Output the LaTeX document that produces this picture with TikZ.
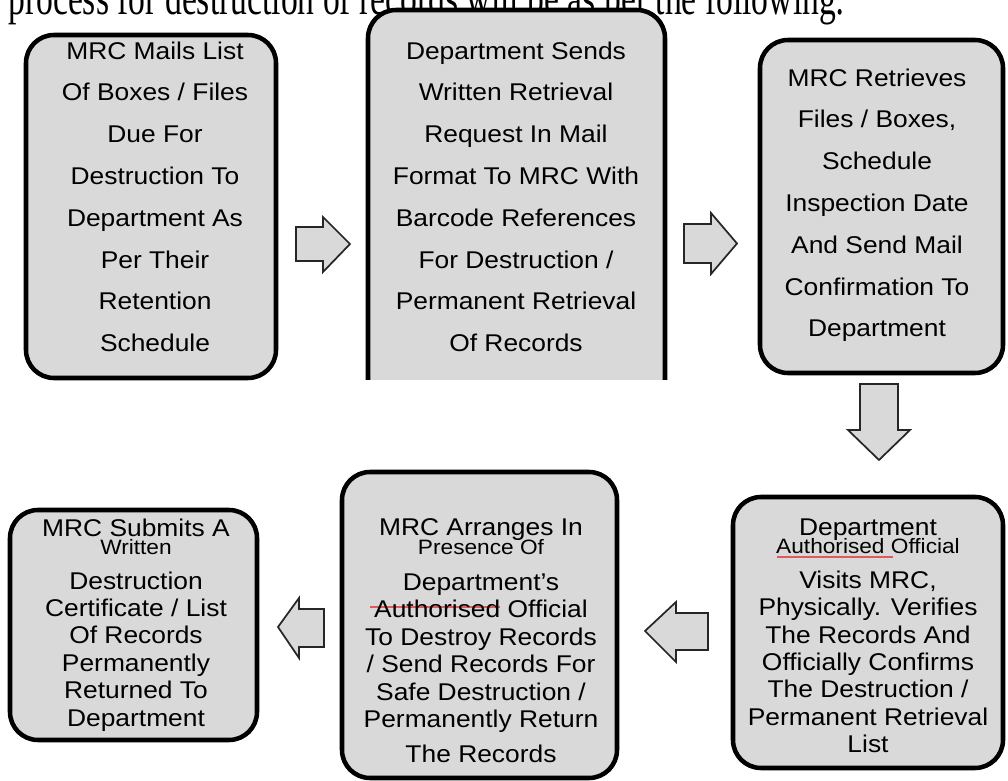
\documentclass[tikz,border=0pt]{standalone}
\usepackage{fontspec}
\usepackage{graphicx}
\usetikzlibrary{fit}
\newfontfamily\boxfont[FakeStretch=1.09]{Liberation Sans}
\newfontfamily\headfont{Liberation Serif}
\definecolor{boxgray}{RGB}{217,217,217}
\definecolor{spellred}{RGB}{225,90,90}
\tikzset{
  boxfill/.style={fill=boxgray, draw=none, inner sep=0pt, outer sep=0pt, rounded corners=21pt},
  boxline/.style={draw=black, line width=3.4pt, rounded corners=21pt},
  bigtxt/.style={font=\boxfont\fontsize{18.15}{31.35}\selectfont, align=center, inner sep=0pt, anchor=north, text=black},
  tighttxt/.style={font=\boxfont\fontsize{18.15}{20.55}\selectfont, align=center, inner sep=0pt, anchor=north, text=black},
  blockarrow/.style={fill=boxgray, draw=black!85, line width=1.3pt, line join=miter},
  spellline/.style={draw=spellred, line width=0.8pt}
}
\newcommand\smalltext[1]{{\fontsize{15.6}{18}\selectfont #1}}
\begin{document}
\begin{tikzpicture}[x=0.75pt,y=-0.75pt]
\useasboundingbox (0,0) rectangle (1008,781);
\clip (0,0) rectangle (1008,781);
% header line (cropped)
\node[anchor=base west, inner sep=0pt] (hdr) at (8,15)
  {\scalebox{1}[1.45]{\resizebox{627.75pt}{!}{\headfont process for destruction of records will be as per the following:}}};
% box fills
\node[boxfill, fit={(26,35) (276,378)}] (b1) {};
\begin{scope}
  \clip (0,0) rectangle (1008,380);
  \node[boxfill, fit={(368,10) (665,430)}] (b2) {};
\end{scope}
\node[boxfill, fit={(760,40) (1003,373)}] (b3) {};
\node[boxfill, fit={(733,497) (1003,768)}] (b4) {};
\node[boxfill, fit={(342,472) (617,778)}] (b5) {};
\node[boxfill, fit={(10,510) (257,740)}] (b6) {};
% spell-check marks
\draw[spellline] (777,557) -- (893,557);
\draw[spellline] (370,607) -- (500,607);
% texts
\node[bigtxt] (t1) at (155,41.3) {MRC Mails List\\Of Boxes / Files\\Due For\\Destruction To\\Department As\\Per Their\\Retention\\Schedule};
\node[bigtxt] (t2) at (516,41.3) {Department Sends\\Written Retrieval\\Request In Mail\\Format To MRC With\\Barcode References\\For Destruction /\\Permanent Retrieval\\Of Records};
\node[bigtxt] (t3) at (877,68.3) {MRC Retrieves\\Files / Boxes,\\Schedule\\Inspection Date\\And Send Mail\\Confirmation To\\Department};
\node[tighttxt] (t4) at (868,518.3) {Department\\[-6.5pt]\smalltext{Authorised Official}\\[5.2pt]Visits MRC,\\Physically. Verifies\\The Records And\\Officially Confirms\\The Destruction /\\Permanent Retrieval\\List};
\node[tighttxt] (t5) at (481,518.3) {MRC Arranges In\\[-6.5pt]\smalltext{Presence Of}\\[6.7pt]Department’s\\Authorised Official\\To Destroy Records\\/ Send Records For\\Safe Destruction /\\Permanently Return\\[5.7pt]The Records};
\node[tighttxt] (t6) at (136,518.3) {MRC Submits A\\[-6.5pt]\smalltext{Written}\\[5.2pt]Destruction\\Certificate / List\\Of Records\\Permanently\\Returned To\\Department};
% borders
\draw[boxline] (b1.north west) rectangle (b1.south east);
\begin{scope}
  \clip (0,0) rectangle (1008,380);
  \draw[boxline] (b2.north west) rectangle (b2.south east);
\end{scope}
\draw[boxline] (b3.north west) rectangle (b3.south east);
\draw[boxline] (b4.north west) rectangle (b4.south east);
\draw[boxline] (b5.north west) rectangle (b5.south east);
\draw[boxline] (b6.north west) rectangle (b6.south east);
% block arrows
\draw[blockarrow] (296,227) -- (323,227) -- (323,217) -- (350,244) -- (323,272) -- (323,261) -- (296,261) -- cycle;
\draw[blockarrow] (684,224) -- (711,224) -- (711,213) -- (737,243.5) -- (711,274) -- (711,263) -- (684,263) -- cycle;
\draw[blockarrow] (860,384) -- (898,384) -- (898,430) -- (910,430) -- (879,460) -- (848,430) -- (860,430) -- cycle;
\draw[blockarrow] (708,613) -- (676,613) -- (676,602) -- (645,631) -- (676,662) -- (676,650) -- (708,650) -- cycle;
\draw[blockarrow] (324,609) -- (299,609) -- (299,598) -- (278,627) -- (299,658) -- (299,647) -- (324,647) -- cycle;
\end{tikzpicture}
\end{document}
